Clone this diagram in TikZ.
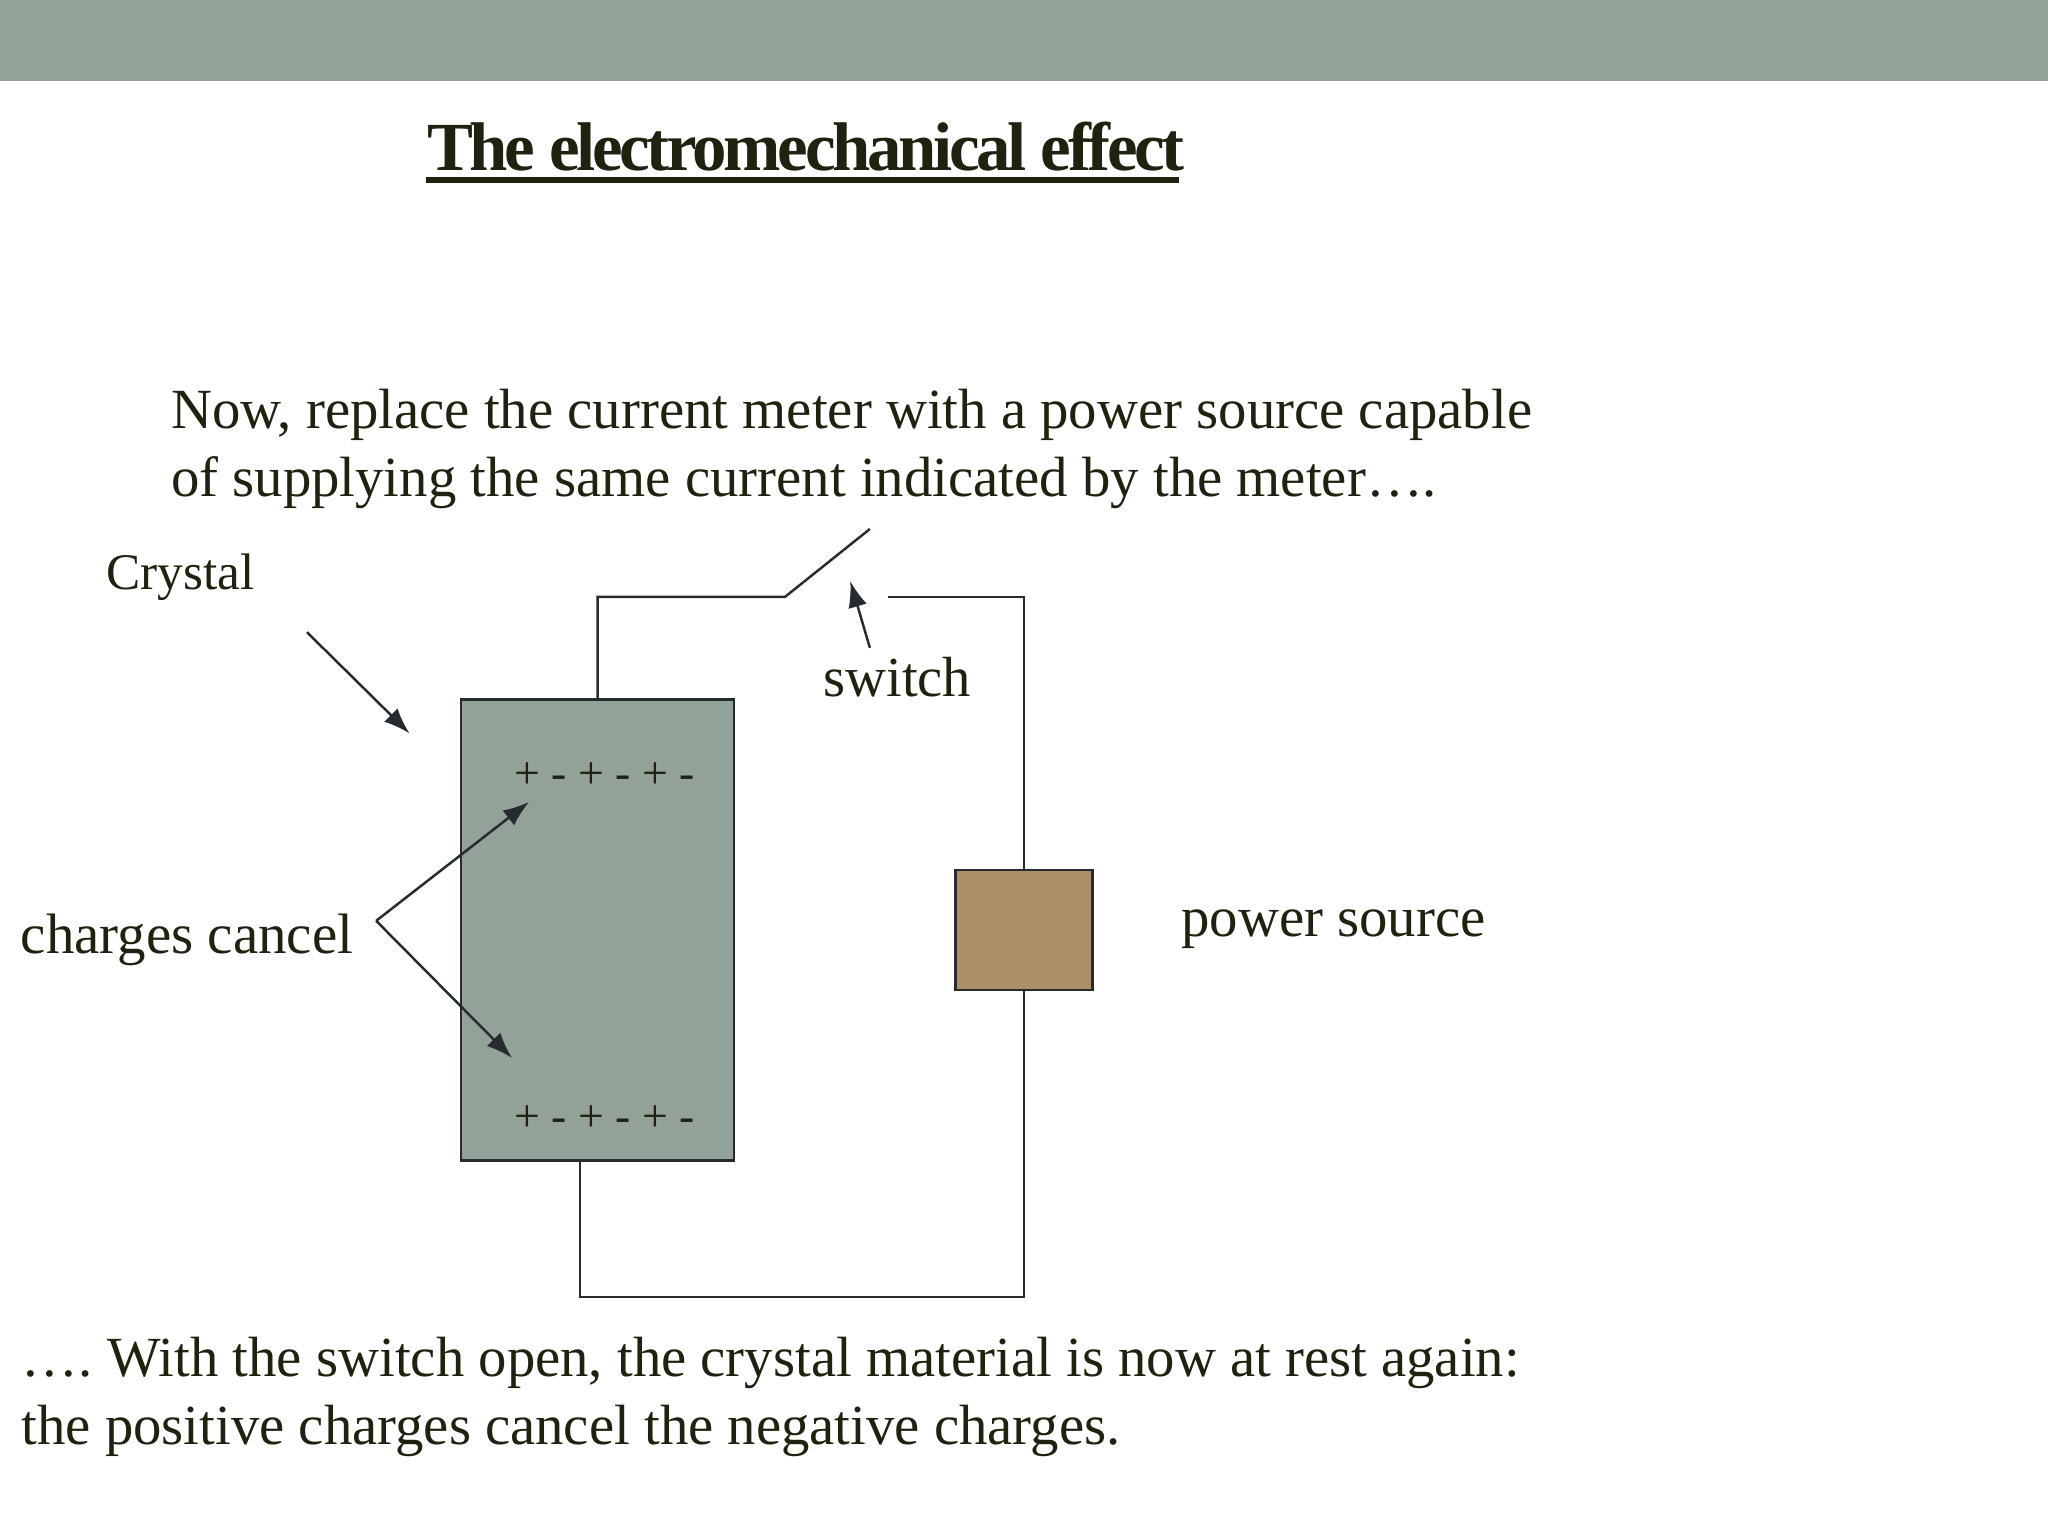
\documentclass[tikz,border=0pt]{standalone}
\usepackage{fontspec}
\setmainfont{Liberation Serif}
\usepackage{tikz}
\definecolor{bandgray}{HTML}{93A299}
\definecolor{boxbrown}{HTML}{AD8F67}
\definecolor{inkdark}{HTML}{20220F}
\definecolor{linedark}{HTML}{262B30}
\tikzset{
  wire/.style={draw=linedark, line width=0.7pt, line join=miter},
  pointer/.style={wire, -{Latex[length=2.6mm,width=1.9mm]}},
  label/.style={text=inkdark, anchor=base west, inner sep=0pt, outer sep=0pt, align=left},
  charges/.style={text=inkdark, anchor=base, inner sep=0pt, font=\fontsize{13}{15}\selectfont},
  part/.style={draw=linedark, line width=0.8pt, inner sep=0pt, outer sep=0pt}
}
\usetikzlibrary{arrows.meta}
\begin{document}
\begin{tikzpicture}[x=0.0130612cm, y=-0.0130612cm]
\useasboundingbox (0,0) rectangle (1568,1176);
\fill[bandgray] (0,0) rectangle (1568,62);

\node[label, font=\fontsize{19.6}{22}\bfseries\selectfont] (title) at (327,130.5) {\addfontfeature{LetterSpace=-4.8}The electromechanical effect};
\coordinate (ulinea) at (326,138);
\coordinate (ulineb) at (903,138);
\draw[inkdark, line width=1.7pt] (ulinea) -- (ulineb);

\node[label, font=\fontsize{16.15}{19.3}\selectfont] (intro) at (131,380) {Now, replace the current meter with a power source capable\\of supplying the same current indicated by the meter….};
\node[label, font=\fontsize{14.6}{17}\selectfont] (crystaltext) at (81.5,451) {Crystal};
\node[label, font=\fontsize{16.1}{19}\selectfont] (switchtext) at (630.5,533) {switch};
\node[label, font=\fontsize{16.2}{19}\selectfont] (cancel) at (16,730) {charges cancel};
\node[label, font=\fontsize{16.15}{19}\selectfont] (powertext) at (904.5,717) {power source};
\node[label, font=\fontsize{16.14}{19.3}\selectfont] (outro) at (16.5,1106) {….\kern-1.1pt{} With the switch open, the crystal material is now at rest again:\\the positive charges cancel the negative charges.};

\node[part, fill=bandgray, minimum width=2.73cm, minimum height=4.61cm] (crystal) at (457.5,712) {};
\node[part, fill=boxbrown, minimum width=1.37cm, minimum height=1.20cm] (power) at (784,712) {};
\node[charges] (chargestop) at (463,604) {+ - + - + -};
\node[charges] (chargesbot) at (463,866) {+ - + - + -};

\coordinate (hinge) at (601,457);
\coordinate (blade) at (666,405);
\coordinate (contact) at (680,457);
\coordinate (cornerleft) at (457.5,457);
\coordinate (cornerright) at (784,457);
\coordinate (bottomright) at (784,993);
\coordinate (bottomleft) at (444,993);
\coordinate (crystalfoot) at (444,888);

\draw[wire] (crystal.north) -- (cornerleft) -- (hinge) -- (blade);
\draw[wire] (contact) -- (cornerright) -- (power.north);
\draw[wire] (power.south) -- (bottomright) -- (bottomleft) -- (crystalfoot);

\coordinate (crystalstart) at (235,484);
\coordinate (crystaltip) at (313.5,561.5);
\coordinate (switchstart) at (666,496);
\coordinate (switchtip) at (651,445);
\coordinate (apex) at (288,705);
\coordinate (canceltop) at (405,614);
\coordinate (cancelbot) at (392,810);

\draw[pointer] (crystalstart) -- (crystaltip);
\draw[pointer] (switchstart) -- (switchtip);
\draw[pointer] (apex) -- (canceltop);
\draw[pointer] (apex) -- (cancelbot);
\end{tikzpicture}
\end{document}
